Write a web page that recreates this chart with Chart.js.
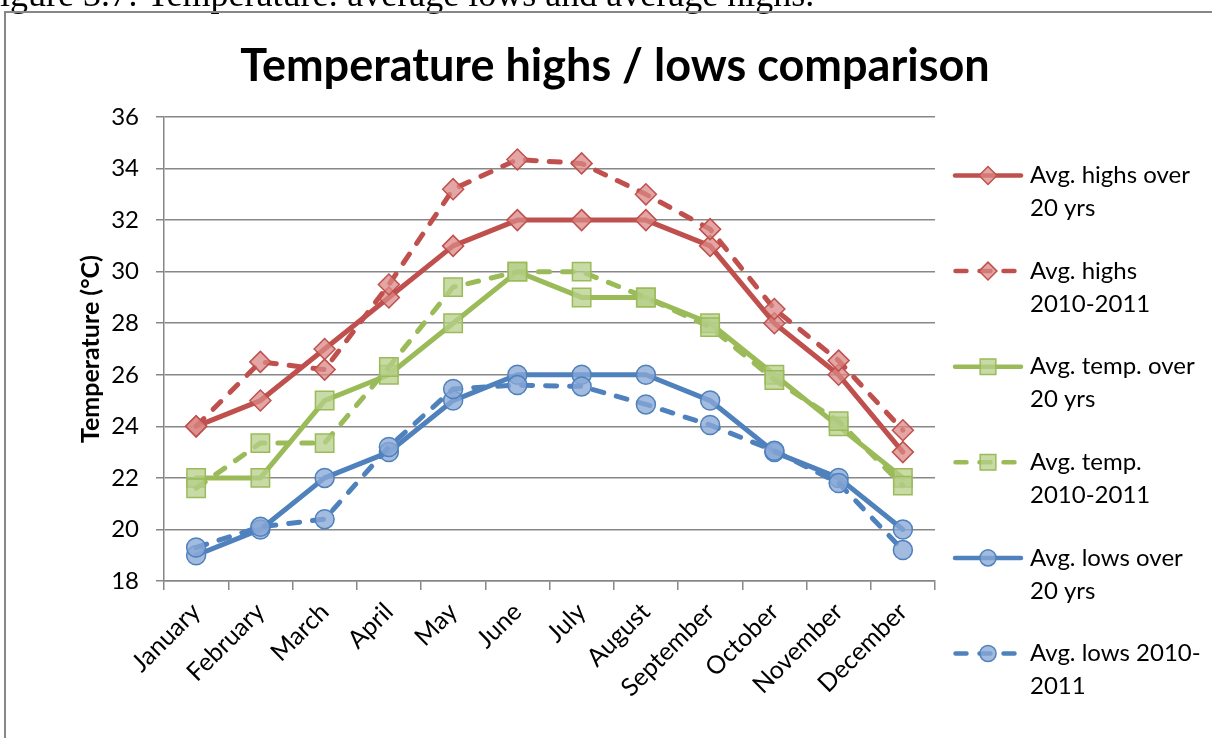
<!DOCTYPE html>
<html>
<head>
<meta charset="utf-8">
<title>Temperature highs / lows comparison</title>
<script src="https://cdn.jsdelivr.net/npm/chart.js@4.4.1/dist/chart.umd.min.js"></script>
<style>
  html, body { margin: 0; padding: 0; background: #ffffff; overflow: hidden; }
  #wrap { position: relative; width: 1212px; height: 738px; }
  canvas { display: block; }
</style>
</head>
<body>
<div id="wrap"><canvas id="chart" width="1212" height="738"></canvas></div>
<script>
// Months along the category axis
const months = ['January', 'February', 'March', 'April', 'May', 'June',
                'July', 'August', 'September', 'October', 'November', 'December'];

// Monthly temperatures, °C
const highsOver20Yrs = [24, 25, 27, 29, 31, 32, 32, 32, 31, 28, 26, 23];
const highs2010to2011 = [24, 26.5, 26.2, 29.5, 33.2, 34.35, 34.2, 33, 31.65, 28.55, 26.55, 23.85];
const tempOver20Yrs = [22, 22, 25, 26, 28, 30, 29, 29, 28, 26, 24, 22];
const temp2010to2011 = [21.6, 23.35, 23.35, 26.3, 29.4, 30, 30, 29, 27.85, 25.8, 24.2, 21.7];
const lowsOver20Yrs = [19, 20, 22, 23, 25, 26, 26, 26, 25, 23, 22, 20];
const lows2010to2011 = [19.3, 20.1, 20.4, 23.2, 25.45, 25.6, 25.55, 24.85, 24.05, 23.05, 21.8, 19.2];

// Legend captions, one entry per series, split into the two printed lines
const seriesLabels = [
  ['Avg. highs over', '20 yrs'],
  ['Avg. highs', '2010-2011'],
  ['Avg. temp. over', '20 yrs'],
  ['Avg. temp.', '2010-2011'],
  ['Avg. lows over', '20 yrs'],
  ['Avg. lows 2010-', '2011']
];

// Value axis range and step
const yMin = 18, yMax = 36, yStep = 2;

const chartTitle = 'Temperature highs / lows comparison';
const yAxisTitle = 'Temperature (°C)';
const captionText = 'Figure 3.7: Temperature: average lows and average highs.';

const RED = '#C0504D', RED_FILL = 'rgba(218,136,134,0.75)';
const GREEN = '#9BBB59', GREEN_FILL = 'rgba(182,207,136,0.75)';
const BLUE = '#4F81BD', BLUE_FILL = 'rgba(136,168,214,0.78)';
const DASH = [11, 13];
const GRID = '#878787';
const FONT = 'Lato, "Open Sans", sans-serif';

function series(i, data, color, fill, dashed, style, radius) {
  return {
    label: seriesLabels[i].join(' '),
    data: data,
    borderColor: color,
    backgroundColor: fill,
    borderWidth: 5,
    borderDash: dashed ? DASH : [],
    borderCapStyle: 'round',
    borderJoinStyle: 'round',
    tension: 0,
    pointStyle: style,
    pointRadius: radius,
    pointHoverRadius: radius,
    pointBackgroundColor: fill,
    pointBorderColor: color,
    pointBorderWidth: 1.5,
    order: 5 - i,
    fill: false
  };
}

const datasets = [
  series(0, highsOver20Yrs, RED, RED_FILL, false, 'rectRot', 10.5),
  series(1, highs2010to2011, RED, RED_FILL, true, 'rectRot', 10.5),
  series(2, tempOver20Yrs, GREEN, GREEN_FILL, false, 'rect', 13),
  series(3, temp2010to2011, GREEN, GREEN_FILL, true, 'rect', 13),
  series(4, lowsOver20Yrs, BLUE, BLUE_FILL, false, 'circle', 9.5),
  series(5, lows2010to2011, BLUE, BLUE_FILL, true, 'circle', 9.5)
];

function drawMarker(ctx, style, radius, x, y) {
  if (Chart.helpers && Chart.helpers.drawPoint) {
    Chart.helpers.drawPoint(ctx, { pointStyle: style, radius: radius, borderWidth: 1.5, rotation: 0 }, x, y);
    return;
  }
  ctx.beginPath();
  if (style === 'circle') {
    ctx.arc(x, y, radius, 0, Math.PI * 2);
  } else if (style === 'rect') {
    const s = radius * Math.SQRT1_2;
    ctx.rect(x - s, y - s, 2 * s, 2 * s);
  } else {
    ctx.moveTo(x, y - radius); ctx.lineTo(x + radius, y);
    ctx.lineTo(x, y + radius); ctx.lineTo(x - radius, y);
    ctx.closePath();
  }
  ctx.fill(); ctx.stroke();
}

// Page caption, frame, chart title and the two-line legend
const decorations = {
  id: 'decorations',
  beforeDraw(chart) {
    const ctx = chart.ctx;
    ctx.save();
    ctx.fillStyle = '#ffffff';
    ctx.fillRect(0, 0, chart.width, chart.height);

    ctx.fillStyle = '#000000';
    ctx.font = '36px "Liberation Serif", "Times New Roman", serif';
    ctx.textAlign = 'left';
    ctx.textBaseline = 'alphabetic';
    ctx.fillText(captionText, -20, 6);

    ctx.strokeStyle = GRID;
    ctx.lineWidth = 2;
    ctx.strokeRect(5, 12, 1400, 900);

    ctx.font = 'bold 45px ' + FONT;
    ctx.textAlign = 'center';
    ctx.fillText(chartTitle, 615, 81);
    ctx.restore();
  },
  afterDraw(chart) {
    const ctx = chart.ctx;
    ctx.save();
    chart.data.datasets.forEach((ds, i) => {
      const y = 175.5 + i * 95.6;
      ctx.strokeStyle = ds.borderColor;
      ctx.lineWidth = 4.5;
      ctx.lineCap = 'round';
      ctx.setLineDash(ds.borderDash || []);
      ctx.beginPath();
      if (ds.borderDash && ds.borderDash.length) {
        ctx.moveTo(955.5, y); ctx.lineTo(1020.5, y);
      } else {
        ctx.moveTo(955, y); ctx.lineTo(1021, y);
      }
      ctx.stroke();
      ctx.setLineDash([]);
      ctx.fillStyle = ds.pointBackgroundColor;
      ctx.strokeStyle = ds.pointBorderColor;
      ctx.lineWidth = 1.5;
      drawMarker(ctx, ds.pointStyle, ds.pointRadius * 0.85, 988, y);

      ctx.fillStyle = '#000000';
      ctx.font = '24px ' + FONT;
      ctx.textAlign = 'left';
      ctx.textBaseline = 'middle';
      seriesLabels[i].forEach((line, k) => ctx.fillText(line, 1030, y + k * 33));
    });
    ctx.restore();
  }
};

new Chart(document.getElementById('chart'), {
  type: 'line',
  data: { labels: months, datasets: datasets },
  plugins: [decorations],
  options: {
    responsive: false,
    devicePixelRatio: 1,
    animation: false,
    layout: { padding: { top: 117, right: 277, bottom: 0, left: 0 } },
    plugins: {
      legend: { display: false },
      title: { display: false },
      tooltip: { enabled: false }
    },
    scales: {
      x: {
        type: 'category',
        offset: true,
        grid: {
          offset: true,
          drawOnChartArea: false,
          drawTicks: true,
          tickLength: 9,
          color: GRID,
          lineWidth: 1.5
        },
        border: { display: true, color: GRID, width: 1.5 },
        ticks: {
          autoSkip: false,
          maxRotation: 45,
          minRotation: 45,
          padding: 7,
          color: '#000000',
          font: { family: FONT, size: 25 }
        },
        afterFit(scale) { scale.height = 157; }
      },
      y: {
        min: yMin,
        max: yMax,
        ticks: {
          stepSize: yStep,
          padding: 17,
          color: '#000000',
          font: { family: FONT, size: 24 }
        },
        grid: { color: GRID, lineWidth: 1.5, tickLength: 8, drawTicks: true },
        border: { display: true, color: GRID, width: 1.5 },
        title: {
          display: true,
          text: yAxisTitle,
          color: '#000000',
          font: { family: FONT, size: 25, weight: 'bold' },
          padding: { top: 76, bottom: 0 }
        },
        afterFit(scale) { scale.width = 164; }
      }
    }
  }
});
</script>
</body>
</html>
